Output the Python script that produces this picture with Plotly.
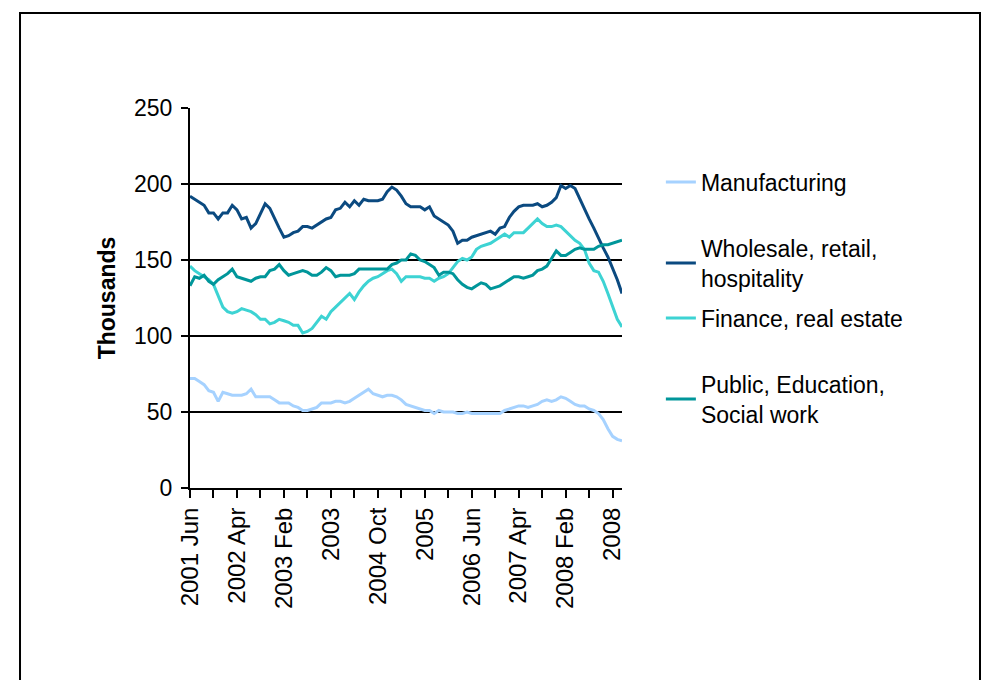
import plotly.graph_objects as go

# Employment by sector, thousands, monthly from June 2001
manufacturing = [72, 72, 70, 68, 64, 63, 57, 63, 62, 61, 61, 61, 62, 65, 60, 60, 60, 60, 58, 56,
                 56, 56, 54, 53, 51, 51, 52, 53, 56, 56, 56, 57, 57, 56, 57, 59, 61, 63, 65, 62,
                 61, 60, 61, 61, 60, 58, 55, 54, 53, 52, 51, 51, 49, 51, 50, 50, 50, 49, 49, 50,
                 49, 49, 49, 49, 49, 49, 49, 51, 52, 53, 54, 54, 53, 54, 55, 57, 58, 57, 58, 60,
                 59, 57, 55, 54, 54, 52, 51, 49, 45, 39, 34, 32, 31]
wholesale = [192, 190, 188, 186, 181, 181, 177, 181, 181, 186, 183, 177, 178, 171, 174, 180, 187, 184, 177, 171,
             165, 166, 168, 169, 172, 172, 171, 173, 175, 177, 178, 183, 184, 188, 185, 189, 186, 190, 189, 189,
             189, 190, 195, 198, 196, 192, 187, 185, 185, 185, 183, 185, 179, 177, 175, 173, 169, 161, 163, 163,
             165, 166, 167, 168, 169, 167, 171, 172, 178, 182, 185, 186, 186, 186, 187, 185, 186, 188, 191, 199,
             197, 199, 197, 190, 184, 177, 171, 164, 158, 152, 145, 137, 128]
finance = [146, 143, 141, 139, 137, 134, 127, 119, 116, 115, 116, 118, 117, 116, 114, 111, 111, 108, 109, 111,
           110, 109, 107, 107, 102, 103, 105, 109, 113, 111, 116, 119, 122, 125, 128, 124, 129, 133, 136, 138,
           139, 141, 143, 144, 141, 136, 139, 139, 139, 139, 138, 138, 136, 138, 139, 141, 145, 149, 151, 150,
           152, 157, 159, 160, 161, 163, 165, 167, 165, 168, 168, 168, 171, 174, 177, 174, 172, 172, 173, 172,
           169, 166, 163, 161, 157, 148, 143, 142, 136, 128, 120, 111, 106]
public = [133, 139, 138, 140, 136, 134, 137, 139, 141, 144, 139, 138, 137, 136, 138, 139, 139, 143, 144, 147,
          143, 140, 141, 142, 143, 142, 140, 140, 142, 145, 143, 139, 140, 140, 140, 141, 144, 144, 144, 144,
          144, 144, 144, 147, 148, 150, 150, 154, 153, 150, 149, 147, 145, 140, 142, 142, 141, 137, 134, 132,
          131, 133, 135, 134, 131, 132, 133, 135, 137, 139, 139, 138, 139, 140, 143, 144, 146, 151, 156, 153,
          153, 155, 157, 158, 157, 157, 157, 159, 160, 160, 161, 162, 163]

series_names = ["Manufacturing", "Wholesale, retail,<br>hospitality", "Finance, real estate",
                "Public, Education,<br>Social work"]
series_values = [manufacturing, wholesale, finance, public]
series_colors = ["#A6D2FF", "#0B4A80", "#3DD3D3", "#00969A"]

# Category labels shown every tenth month
tick_labels = ["2001 Jun", "2002 Apr", "2003 Feb", "2003", "2004 Oct", "2005",
               "2006 Jun", "2007 Apr", "2008 Feb", "2008"]
label_step = 10

n = len(wholesale)
x_idx = list(range(n))
tick_pos = list(range(0, n, label_step))[:len(tick_labels)]

FONT = "Liberation Sans, Arial, sans-serif"

fig = go.Figure()
legend_ids = ["legend", "legend2", "legend3", "legend4"]
for name, vals, col, lid in zip(series_names, series_values, series_colors, legend_ids):
    fig.add_trace(go.Scatter(x=x_idx, y=vals, name=name, mode="lines",
                             line=dict(color=col, width=3), legend=lid))

legend_y = [0.805, 0.592, 0.447, 0.234]
legend_common = dict(x=1.09, xanchor="left", yanchor="middle", bgcolor="rgba(0,0,0,0)",
                     borderwidth=0, font=dict(family=FONT, size=23, color="black"))
fig.update_layout({lid: dict(y=ly, **legend_common) for lid, ly in zip(legend_ids, legend_y)})

fig.update_layout(
    width=1000, height=680,
    margin=dict(l=190, r=378, t=108, b=192),
    paper_bgcolor="white", plot_bgcolor="white",
    font=dict(family=FONT, size=23, color="black"),
    showlegend=True,
)

fig.update_xaxes(
    range=[0, n - 1], showgrid=False, zeroline=False,
    showline=True, linecolor="black", linewidth=2,
    ticks="outside", ticklen=8, tickwidth=2, tickcolor="black",
    tickvals=tick_pos, ticktext=tick_labels, tickangle=-90,
    tickfont=dict(family=FONT, size=24, color="black"),
    minor=dict(ticks="outside", dtick=5, tick0=0, ticklen=8, tickwidth=2,
               tickcolor="black", showgrid=False),
)

fig.update_yaxes(
    range=[0, 250], dtick=50, tick0=0,
    showgrid=True, gridcolor="black", gridwidth=1.6,
    zeroline=False, showline=True, linecolor="black", linewidth=2,
    ticks="outside", ticklen=7, tickwidth=2, tickcolor="black",
    ticklabelstandoff=4,
    tickfont=dict(family=FONT, size=23, color="black"),
    title=dict(text="<b>Thousands</b>", font=dict(family=FONT, size=23, color="black"),
               standoff=12),
)

# Outer frame around the chart
fig.add_shape(type="rect", xref="paper", yref="paper",
              x0=-0.3935, x1=1.8287, y0=-0.6, y1=1.25,
              line=dict(color="black", width=2), fillcolor="rgba(0,0,0,0)", layer="below")

fig.write_html("out.html")
